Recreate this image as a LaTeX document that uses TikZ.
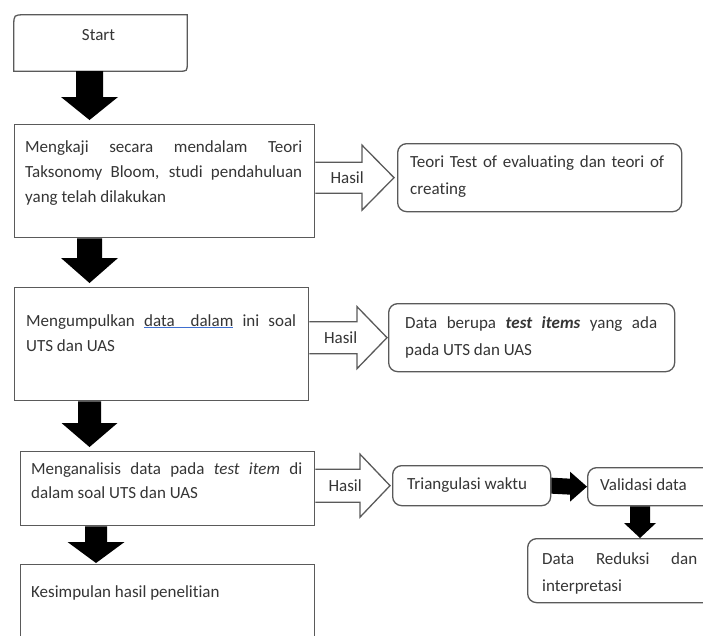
\documentclass[tikz,border=0pt]{standalone}
\usepackage{fontspec}
\setmainfont{Carlito}[Ligatures=NoCommon]
\usetikzlibrary{calc}
\definecolor{framec}{HTML}{5A5A5A}
\definecolor{txtc}{HTML}{353535}
\definecolor{ulblue}{HTML}{3F6FD0}
% black block arrow pointing down: #1 start, #2 tip, #3 shaft half, #4 head half, #5 head length
\newcommand\blkdown[5]{\fill[blk] ($(#1)+(-#3,0)$) -- ($(#2)+(-#3,-#5)$) -- ($(#2)+(-#4,-#5)$) -- (#2) -- ($(#2)+(#4,-#5)$) -- ($(#2)+(#3,-#5)$) -- ($(#1)+(#3,0)$) -- cycle;}
% black block arrow pointing right
\newcommand\blkright[5]{\fill[blk] ($(#1)+(0,-#3)$) -- ($(#2)+(-#5,-#3)$) -- ($(#2)+(-#5,-#4)$) -- (#2) -- ($(#2)+(-#5,#4)$) -- ($(#2)+(-#5,#3)$) -- ($(#1)+(0,#3)$) -- cycle;}
% hollow block arrow pointing right (open at its left end)
\newcommand\hollowright[5]{\filldraw[hasil] ($(#1)+(0,-#3)$) -- ($(#2)+(-#5,-#3)$) -- ($(#2)+(-#5,-#4)$) -- (#2) -- ($(#2)+(-#5,#4)$) -- ($(#2)+(-#5,#3)$) -- ($(#1)+(0,#3)$);}
\newcommand\blueul[1]{\leavevmode\rlap{\color{ulblue}\rule[-2.2pt]{\widthof{#1}}{1pt}}#1}
\usepackage{calc}
\begin{document}
\begin{tikzpicture}[x=1pt,y=-1pt,
  frame/.style={draw=framec, line width=1.3pt, inner sep=0pt, anchor=north west},
  rframe/.style={frame, rounded corners=9pt},
  txt/.style={inner sep=0pt, anchor=north west, text=txtc, font=\fontsize{17}{25}\selectfont, align=justify},
  txtr/.style={txt, font=\fontsize{17}{27}\selectfont},
  blk/.style={fill=black},
  hasil/.style={draw=framec, fill=white, line width=1.3pt, line join=miter},
  hlab/.style={inner sep=0pt, text=txtc, font=\fontsize{17}{20}\selectfont}]
\useasboundingbox (0,0) rectangle (703,635);
\fill[white] (0,0) rectangle (703,635);
\clip (0,0) rectangle (703,635);

% ---- Start ----
\node[inner sep=0pt, minimum width=173, minimum height=56, text height=12pt, text depth=18pt,
      text=txtc, font=\fontsize{17}{20}\selectfont] (start) at (100.5,43) {\hspace*{-4pt}Start};
\draw[draw=framec, line width=1.3pt] (start.south west) -- ([yshift=-11pt]start.north west)
  .. controls (start.north west) .. ([xshift=11pt]start.north west) -- (start.north east)
  -- ([yshift=8pt]start.south east) .. controls (start.south east) .. ([xshift=-8pt]start.south east) -- cycle;

% ---- left column boxes ----
\node[frame, minimum width=300, minimum height=113] (b2) at (14,124) {};
\node[frame, minimum width=294, minimum height=113] (b3) at (14,287) {};
\node[frame, minimum width=294, minimum height=74] (b4) at (20,451) {};
\node[frame, minimum width=294, minimum height=90] (b5) at (20,564) {};

\node[txt, text width=277pt] (b2t) at (25,140)
  {Mengkaji secara mendalam Teori\linebreak Taksonomy Bloom, studi pendahuluan\linebreak yang telah dilakukan};
\node[txt, text width=270pt] (b3t) at (26,314)
  {Mengumpulkan \blueul{data\hspace{16pt}dalam} ini soal\linebreak UTS dan UAS};
\node[txt, text width=271pt, font=\fontsize{17}{24}\selectfont] (b4t) at (31,462)
  {Menganalisis data pada \textit{test item} di\linebreak dalam soal UTS dan UAS};
\node[txt] (b5t) at (31,585) {Kesimpulan hasil penelitian};

% ---- right column boxes ----
\node[rframe, minimum width=284, minimum height=68] (r1) at (397,143) {};
\node[rframe, minimum width=286, minimum height=68] (r2) at (388,303) {};
\node[rframe, minimum width=158, minimum height=40] (r3) at (392,465) {};
\node[rframe, minimum width=130, minimum height=38] (r4) at (587,467) {};
\node[rframe, minimum width=190, minimum height=64] (r5) at (527,538) {};

\node[txtr, text width=254pt] (r1t) at (410,155) {Teori Test of evaluating dan teori of\linebreak creating};
\node[txtr, text width=252pt] (r2t) at (405,316) {Data berupa \textbf{\textit{test items}} yang ada\linebreak pada UTS dan UAS};
\node[txtr] (r3t) at (407,477) {Triangulasi waktu};
\node[txtr] (r4t) at (600,478) {Validasi data};
\node[txtr, text width=155pt] (r5t) at (542,552) {Data Reduksi dan\linebreak interpretasi};

% ---- black down arrows ----
\coordinate (xa) at (89.5,0);
\coordinate (xb) at (96,0);
\coordinate (xc) at (640,0);
\coordinate (a1s) at (xa |- start.south);
\coordinate (a1t) at ([yshift=4pt]xa |- b2.north);
\blkdown{a1s}{a1t}{13.5}{28.5}{23}
\coordinate (a2s) at (xa |- b2.south);
\coordinate (a2t) at ([yshift=4pt]xa |- b3.north);
\blkdown{a2s}{a2t}{12.5}{28.5}{25}
\coordinate (a3s) at (xa |- b3.south);
\coordinate (a3t) at ([yshift=4pt]xa |- b4.north);
\blkdown{a3s}{a3t}{11.5}{28}{24}
\coordinate (a4s) at (xb |- b4.south);
\coordinate (a4t) at ([yshift=1pt]xb |- b5.north);
\blkdown{a4s}{a4t}{11}{28.5}{21}
\coordinate (a5s) at (xc |- r4.south);
\coordinate (a5t) at (xc |- r5.north);
\blkdown{a5s}{a5t}{10}{16}{15}
% black right arrow Triangulasi -> Validasi
\coordinate (a6s) at (r3.east);
\coordinate (a6t) at (r4.west);
\blkright{a6s}{a6t}{8}{15}{17}

% ---- hollow "Hasil" arrows ----
\coordinate (h1a) at (b2.east |- r1.west);
\coordinate (h1b) at ([xshift=-3pt]r1.west);
\hollowright{h1a}{h1b}{15.5}{32.5}{32}
\node[hlab] (h1l) at ([xshift=-7.5pt]$(h1a)!0.5!(h1b)$) {Hasil};
\coordinate (h2a) at (b3.east |- r2.west);
\coordinate (h2b) at ([xshift=-1pt]r2.west);
\hollowright{h2a}{h2b}{16}{31}{30}
\node[hlab] (h2l) at ([xshift=-7.5pt]$(h2a)!0.5!(h2b)$) {Hasil};
\coordinate (h3a) at (b4.east |- r3.west);
\coordinate (h3b) at ([xshift=-2pt]r3.west);
\hollowright{h3a}{h3b}{16.5}{31.5}{30}
\node[hlab] (h3l) at ([xshift=-7.5pt]$(h3a)!0.5!(h3b)$) {Hasil};
\end{tikzpicture}
\end{document}
